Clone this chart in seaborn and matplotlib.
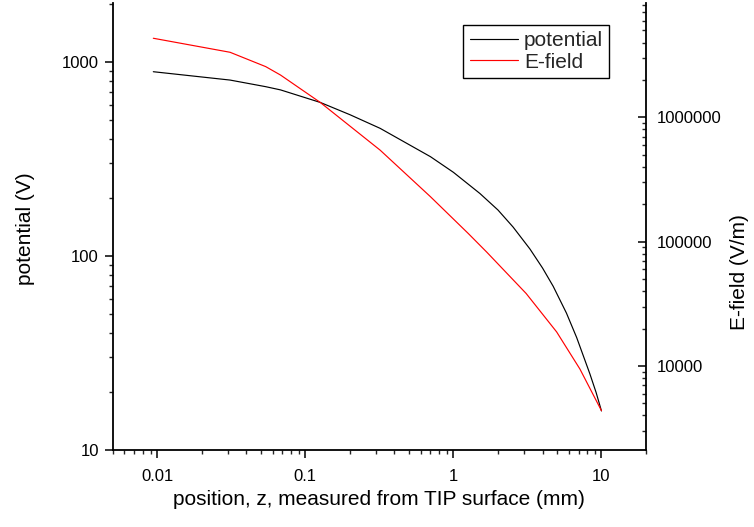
import numpy as np
import pandas as pd
import matplotlib
matplotlib.use("Agg")
import matplotlib.pyplot as plt
from matplotlib.ticker import LogLocator, FuncFormatter, NullFormatter
import seaborn as sns

# ---- data ----
pot_z = [0.0094, 0.031, 0.054, 0.068, 0.126, 0.2, 0.32, 0.70, 1.0, 1.51, 2.0,
         2.53, 3.29, 4.0, 4.72, 5.8, 6.8, 8.35, 9.2, 10.0]
pot_v = [891, 807, 746, 718, 619, 535, 455, 325, 270, 210, 172.6,
         141, 108.6, 86.7, 69.8, 50.8, 38.0, 24.7, 19.8, 15.9]

ef_z = [0.0094, 0.031, 0.054, 0.068, 0.126, 0.32, 0.70, 1.26, 1.68, 3.1,
        4.98, 7.15, 10.0]
ef_v = [4.33e6, 3.34e6, 2.56e6, 2.19e6, 1.32e6, 5.45e5, 2.3e5, 1.164e5,
        8.24e4, 3.83e4, 1.88e4, 9.46e3, 4.37e3]

x_ticks = [0.01, 0.1, 1, 10]
left_ticks = [10, 100, 1000]
right_ticks = [10000, 100000, 1000000]

xlabel = "position, z, measured from TIP surface (mm)"
ylabel_left = "potential (V)"
ylabel_right = "E-field (V/m)"

sns.set_style("ticks")
plt.rcParams['font.family'] = ['Liberation Sans', 'DejaVu Sans']

df_pot = pd.DataFrame({"z": pot_z, "v": pot_v})
df_ef = pd.DataFrame({"z": ef_z, "e": ef_v})

fig = plt.figure(figsize=(7.54, 5.27), dpi=100)
ax = fig.add_axes([0.1495, 0.1461, 0.7073, 0.8482])
ax2 = ax.twinx()

sns.lineplot(data=df_pot, x="z", y="v", ax=ax, color="black", lw=0.85,
             label="potential", legend=False, sort=False)
sns.lineplot(data=df_ef, x="z", y="e", ax=ax2, color="#ff0000", lw=0.85,
             label="E-field", legend=False, sort=False)

ax.set_xscale("log")
ax.set_yscale("log")
ax2.set_yscale("log")
ax.set_xlim(0.005, 20)
ax.set_ylim(10, 2014)
ax2.set_ylim(2109, 8.32e6)

fmt = FuncFormatter(lambda v, p: f"{v:g}")
ax.xaxis.set_minor_locator(LogLocator(base=10, subs=np.arange(2, 10), numticks=20))
ax.set_xticks(x_ticks)
ax.xaxis.set_major_formatter(fmt)
ax.xaxis.set_minor_formatter(NullFormatter())

ax.yaxis.set_minor_locator(LogLocator(base=10, subs=np.arange(2, 10), numticks=20))
ax.set_yticks(left_ticks)
ax.yaxis.set_major_formatter(FuncFormatter(lambda v, p: f"{int(round(v))}"))
ax.yaxis.set_minor_formatter(NullFormatter())

ax2.yaxis.set_minor_locator(LogLocator(base=10, subs=np.arange(2, 10), numticks=20))
ax2.set_yticks(right_ticks)
ax2.yaxis.set_major_formatter(FuncFormatter(lambda v, p: f"{int(round(v))}"))
ax2.yaxis.set_minor_formatter(NullFormatter())

for a in (ax, ax2):
    a.spines['top'].set_visible(False)
    for s in a.spines.values():
        s.set_linewidth(1.3)
        s.set_color("black")
ax.spines['right'].set_visible(False)
ax2.spines['left'].set_visible(False)
ax2.spines['bottom'].set_visible(False)

ax.tick_params(axis='x', which='major', direction='out', length=6, width=1.1,
               labelsize=12, pad=7.5, top=False, colors='black')
ax.tick_params(axis='x', which='minor', direction='out', length=3, width=1.0, top=False)
ax.tick_params(axis='y', which='major', direction='out', length=6, width=1.1,
               labelsize=12, pad=4, right=False, colors='black')
ax.tick_params(axis='y', which='minor', direction='out', length=3, width=1.0, right=False)
ax2.tick_params(axis='y', which='major', direction='in', length=6, width=1.1,
                labelsize=12, pad=7.5, left=False, colors='black')
ax2.tick_params(axis='y', which='minor', direction='in', length=3, width=1.0, left=False)

ax.set_xlabel(xlabel, fontsize=15, color='black')
ax.xaxis.set_label_coords(0.5, -0.09)
ax.set_ylabel(ylabel_left, fontsize=15, color='black')
ax.yaxis.set_label_coords(-0.145, 0.495)
ax2.set_ylabel(ylabel_right, fontsize=15, color='black')
ax2.yaxis.set_label_coords(1.1575, 0.398)

ax.grid(False)
ax2.grid(False)

h1, l1 = ax.get_legend_handles_labels()
h2, l2 = ax2.get_legend_handles_labels()
leg = ax.legend(h1 + h2, l1 + l2, loc='upper right', bbox_to_anchor=(0.931, 0.951),
                borderaxespad=0, fontsize=15, frameon=True, fancybox=False,
                edgecolor='black', framealpha=1, handlelength=2.3,
                handletextpad=0.3, labelspacing=0.12, borderpad=0.3)
leg.get_frame().set_linewidth(1.0)
leg.set_zorder(10)

fig.savefig("out.png", dpi=100)
